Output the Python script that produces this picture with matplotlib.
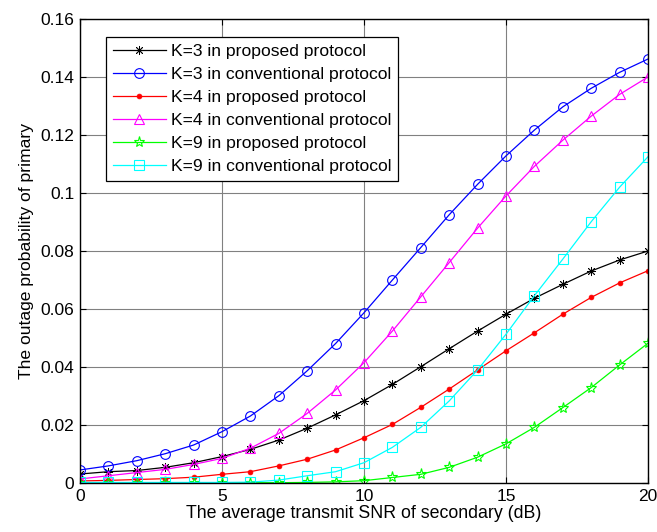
import matplotlib.pyplot as plt

plt.rcParams['font.family'] = ['Liberation Sans', 'DejaVu Sans']

snr = list(range(21))

k3_prop = [0.0031, 0.0039, 0.0043, 0.0054, 0.0070, 0.0091, 0.0116, 0.0148, 0.0189, 0.0235,
           0.0284, 0.0340, 0.0401, 0.0463, 0.0524, 0.0582, 0.0637, 0.0685, 0.0731, 0.0769, 0.0800]
k3_conv = [0.0045, 0.0059, 0.0077, 0.0101, 0.0131, 0.0177, 0.0231, 0.0301, 0.0387, 0.0481,
           0.0587, 0.0700, 0.0812, 0.0925, 0.1030, 0.1128, 0.1217, 0.1297, 0.1361, 0.1416, 0.1462]
k4_prop = [0.0007, 0.0009, 0.0012, 0.0015, 0.0020, 0.0030, 0.0039, 0.0059, 0.0082, 0.0114,
           0.0156, 0.0202, 0.0261, 0.0324, 0.0390, 0.0456, 0.0518, 0.0582, 0.0640, 0.0690, 0.0732]
k4_conv = [0.0014, 0.0025, 0.0036, 0.0047, 0.0064, 0.0085, 0.0120, 0.0171, 0.0240, 0.0321,
           0.0415, 0.0524, 0.0642, 0.0760, 0.0879, 0.0990, 0.1092, 0.1182, 0.1265, 0.1340, 0.1400]
k9_prop = [0.0000, 0.0000, 0.0000, 0.0000, 0.0000, 0.0000, 0.0001, 0.0001, 0.0002, 0.0004,
           0.0008, 0.0019, 0.0030, 0.0054, 0.0089, 0.0135, 0.0192, 0.0260, 0.0329, 0.0407, 0.0482]
k9_conv = [0.0002, 0.0002, 0.0002, 0.0002, 0.0002, 0.0002, 0.0003, 0.0010, 0.0025, 0.0039,
           0.0070, 0.0123, 0.0192, 0.0283, 0.0390, 0.0513, 0.0646, 0.0772, 0.0901, 0.1020, 0.1125]

labels = ['K=3 in proposed protocol', 'K=3 in conventional protocol',
          'K=4 in proposed protocol', 'K=4 in conventional protocol',
          'K=9 in proposed protocol', 'K=9 in conventional protocol']

fig = plt.figure(figsize=(6.57, 5.32), dpi=100)
ax = fig.add_axes([0.1218, 0.0921, 0.8645, 0.8722])

lw = 0.9
ax.plot(snr, k3_prop, color='k', lw=lw, marker=(8, 2, 0), ms=6.5, mew=0.6, label=labels[0])
ax.plot(snr, k3_conv, color='#0000ff', lw=lw, marker='o', ms=7, mfc='none', mew=0.8, label=labels[1])
ax.plot(snr, k4_prop, color='#ff0000', lw=lw, marker='o', ms=3.5, mew=0.5, label=labels[2])
ax.plot(snr, k4_conv, color='#ff00ff', lw=lw, marker='^', ms=7.5, mfc='none', mew=0.8, label=labels[3])
ax.plot(snr, k9_prop, color='#00ff00', lw=lw, marker='*', ms=8, mfc='none', mew=0.8, label=labels[4])
ax.plot(snr, k9_conv, color='#00ffff', lw=lw, marker='s', ms=7, mfc='none', mew=0.8, label=labels[5])

ax.set_xlim(0, 20)
ax.set_ylim(0, 0.16)
ax.set_xticks([0, 5, 10, 15, 20])
ax.set_yticks([0, 0.02, 0.04, 0.06, 0.08, 0.1, 0.12, 0.14, 0.16])
ax.set_yticklabels(['0', '0.02', '0.04', '0.06', '0.08', '0.1', '0.12', '0.14', '0.16'])
ax.tick_params(direction='in', labelsize=12.5, length=4, top=True, right=True, pad=4)
ax.grid(True, color='#808080', lw=0.8)
for s in ax.spines.values():
    s.set_linewidth(1.0)

ax.set_xlabel('The average transmit SNR of secondary (dB)', fontsize=12.8, labelpad=1)
ax.set_ylabel('The outage probability of primary', fontsize=12.6, labelpad=5)

leg = ax.legend(loc='upper left', bbox_to_anchor=(0.046, 0.962), fontsize=12.6,
                fancybox=False, edgecolor='k', framealpha=1, handlelength=3.0,
                borderpad=0.4, labelspacing=0.45, handletextpad=0.3, borderaxespad=0)
leg.get_frame().set_linewidth(0.9)

fig.savefig('out.png', dpi=100)
